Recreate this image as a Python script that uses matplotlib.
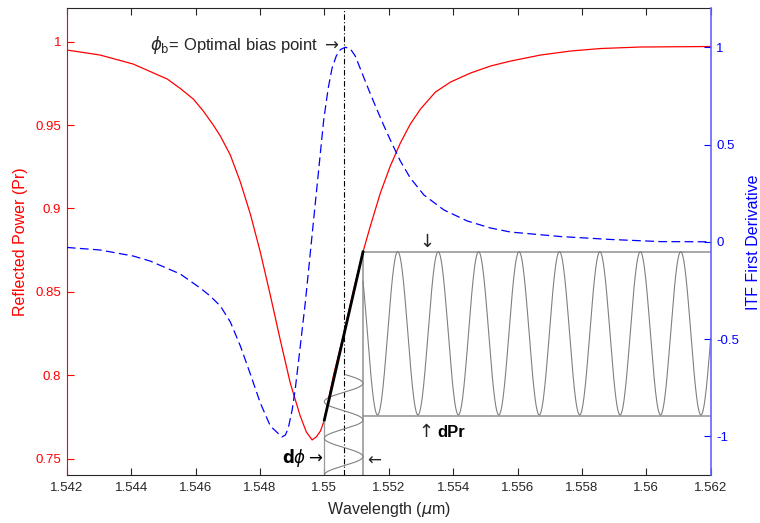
import numpy as np
import matplotlib
matplotlib.use('Agg')
import matplotlib.pyplot as plt

plt.rcParams['font.family'] = ['Liberation Sans', 'DejaVu Sans']
plt.rcParams['mathtext.fontset'] = 'dejavusans'

# Reflected power (left axis)
wl_pr = [1.54200, 1.54303, 1.54406, 1.54512, 1.54552, 1.54593, 1.54624, 1.54655,
         1.54677, 1.54708, 1.54739, 1.54770, 1.54801, 1.54832, 1.54863, 1.54894,
         1.54925, 1.54944, 1.54962, 1.54975, 1.54988, 1.55000, 1.55028, 1.55060,
         1.55090, 1.55120, 1.55143, 1.55174, 1.55205, 1.55236, 1.55267, 1.55299,
         1.55345, 1.55392, 1.55454, 1.55516, 1.55579, 1.55672, 1.55765, 1.55859,
         1.55983, 1.56200]
pr = [0.9950, 0.9920, 0.9866, 0.9776, 0.9720, 0.9656, 0.9584, 0.9500,
      0.9434, 0.9320, 0.9159, 0.8967, 0.8739, 0.8481, 0.8212, 0.7954,
      0.7756, 0.7660, 0.7612, 0.7630, 0.7666, 0.7732, 0.7996, 0.8247,
      0.8505, 0.8739, 0.8895, 0.9093, 0.9255, 0.9392, 0.9506, 0.9597,
      0.9698, 0.9758, 0.9812, 0.9854, 0.9884, 0.9920, 0.9944, 0.9959,
      0.9968, 0.9971]

# ITF first derivative (right axis)
wl_itf = [1.54200, 1.54303, 1.54406, 1.54459, 1.54552, 1.54614, 1.54645, 1.54677,
          1.54708, 1.54739, 1.54770, 1.54801, 1.54832, 1.54868, 1.54879, 1.54888,
          1.54900, 1.54910, 1.54925, 1.54941, 1.54951, 1.54966, 1.54982, 1.54998,
          1.55012, 1.55024, 1.55037, 1.55050, 1.55065, 1.55081, 1.55096, 1.55122,
          1.55143, 1.55164, 1.55184, 1.55205, 1.55236, 1.55267, 1.55309, 1.55371,
          1.55444, 1.55516, 1.55579, 1.55734, 1.55890, 1.56045, 1.56200]
itf = [-0.029, -0.042, -0.073, -0.099, -0.165, -0.237, -0.278, -0.330,
       -0.412, -0.535, -0.679, -0.828, -0.946, -1.003, -0.993, -0.957,
       -0.864, -0.751, -0.540, -0.309, -0.145, 0.102, 0.364, 0.626,
       0.790, 0.893, 0.955, 0.988, 1.000, 0.991, 0.955, 0.847,
       0.760, 0.677, 0.600, 0.523, 0.415, 0.328, 0.241, 0.164,
       0.107, 0.071, 0.050, 0.027, 0.012, 0.001, 0.000]

# bias point and modulation window
bias_wl = 1.5506
dphi_lo, dphi_hi = 1.5500, 1.5512
chord_pr = [0.7732, 0.8739]
dpr_top, dpr_bottom = 0.8741, 0.7757

# output wave (dPr): peak positions and levels
out_peaks = [1.55228, 1.55352, 1.55479, 1.55607, 1.55731, 1.55856, 1.55983, 1.56107]
out_hi, out_lo = 0.8741, 0.7762
# input wave (dphi): right-lobe positions on the Pr axis
in_lobes = [0.7952, 0.7732, 0.7512]
in_top = 0.8003

x_ticks = [1.542, 1.544, 1.546, 1.548, 1.55, 1.552, 1.554, 1.556, 1.558, 1.56, 1.562]
left_ticks = [0.75, 0.8, 0.85, 0.9, 0.95, 1]
right_ticks = [-1, -0.5, 0, 0.5, 1]

fig = plt.figure(figsize=(7.6, 5.23), dpi=100)
ax1 = fig.add_axes([0.0879, 0.0912, 0.8472, 0.8929])
ax2 = ax1.twinx()

gray = '#808080'
ax1.plot(wl_pr, pr, color='red', lw=0.9)
ax2.plot(wl_itf, itf, color='blue', lw=0.9, ls=(0, (7, 3.5)))
ax1.axvline(bias_wl, color='black', lw=0.8, ls=(0, (5, 2, 1, 2)))

# dPr box lines
ax1.plot([dphi_hi, 1.562], [dpr_top, dpr_top], color='#999999', lw=1.2)
ax1.plot([dphi_hi, 1.562], [dpr_bottom, dpr_bottom], color='#999999', lw=1.2)
ax1.plot([dphi_hi, dphi_hi], [0.74, dpr_top], color='#999999', lw=1.2)
ax1.plot([dphi_lo, dphi_lo], [0.74, chord_pr[0]], color='#999999', lw=0.9)

# output sinusoid
period = (out_peaks[-1] - out_peaks[0]) / (len(out_peaks) - 1)
xw = np.linspace(dphi_hi, 1.562, 800)
mid = (out_hi + out_lo) / 2
yw = mid + (out_hi - out_lo) / 2 * np.cos(2 * np.pi * (xw - out_peaks[0]) / period)
ax1.plot(xw, yw, color=gray, lw=0.8)

# input sinusoid (vertical)
per_in = in_lobes[0] - in_lobes[1]
yv = np.linspace(0.74, in_top, 400)
xv = bias_wl + (dphi_hi - dphi_lo) / 2 * np.cos(2 * np.pi * (yv - in_lobes[0]) / per_in)
ax1.plot(xv, yv, color=gray, lw=0.8)

# slope chord
ax1.plot([dphi_lo, dphi_hi], chord_pr, color='black', lw=2)

ax1.set_xlim(1.542, 1.562)
ax1.set_ylim(0.74, 1.02)
ax2.set_ylim(-1.2, 1.2)

ax1.set_xticks(x_ticks)
ax1.set_xticklabels([f'{v:g}' for v in x_ticks])
ax1.set_yticks(left_ticks)
ax1.set_yticklabels([f'{v:g}' for v in left_ticks])
ax2.set_yticks(right_ticks)
ax2.set_yticklabels([f'{v:g}' for v in right_ticks])

ax1.tick_params(axis='x', direction='in', length=5, width=0.8, top=True,
                colors='#262626', labelsize=9.5, pad=5)
ax1.tick_params(axis='y', direction='in', length=5, width=0.8, right=False,
                colors='red', labelsize=9.5, pad=4)
ax2.tick_params(axis='y', direction='in', length=5, width=0.8,
                colors='blue', labelsize=9.5, pad=4)

for s in ['top', 'bottom']:
    ax1.spines[s].set_color('#262626')
ax1.spines['left'].set_color('red')
ax1.spines['right'].set_visible(False)
for s in ['top', 'bottom', 'left']:
    ax2.spines[s].set_visible(False)
ax2.spines['right'].set_color('#6464ff')
ax2.spines['right'].set_linewidth(1.2)

ax1.set_xlabel(r'Wavelength ($\mu$m)', fontsize=11.5, color='#262626')
ax1.xaxis.set_label_coords(0.5, -0.053)
ax1.set_ylabel('Reflected Power (Pr)', fontsize=11.5, color='red')
ax1.yaxis.set_label_coords(-0.0595, 0.5)
ax2.set_ylabel('ITF First Derivative', fontsize=11.5, color='blue')
ax2.yaxis.set_label_coords(1.055, 0.5)

# annotations
ax1.text(1.55046, 0.9950, r'$\phi_{\rm b}$= Optimal bias point $\rightarrow$',
         fontsize=12, ha='right', va='baseline', color='#262626')
ax1.text(1.55312, 0.8748, r'$\downarrow$', fontsize=13, ha='center', va='bottom',
         color='#262626')
ax1.text(1.55309, 0.7627, r'$\uparrow$', fontsize=13, ha='center', va='baseline',
         color='#262626')
ax1.text(1.55352, 0.7627, 'dPr', fontsize=12, fontweight='bold', ha='left',
         va='baseline', color='black')
ax1.text(1.54995, 0.7472, r'$\mathbf{d}\phi\rightarrow$', fontsize=12, ha='right',
         va='baseline', color='black')
ax1.text(1.55123, 0.7472, r'$\leftarrow$', fontsize=12, ha='left', va='baseline',
         color='#262626')

fig.savefig('out.png', dpi=100)
